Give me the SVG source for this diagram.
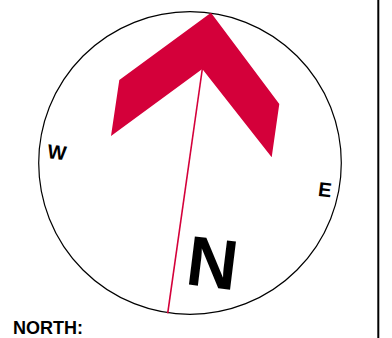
<svg xmlns="http://www.w3.org/2000/svg" width="392" height="338" viewBox="0 0 392 338">
<style>
.lbl{font-family:"Liberation Sans",Arial,sans-serif;font-weight:bold;fill:#000;text-anchor:middle}
</style>
<rect width="392" height="338" fill="#fff"/>
<g id="compass">
<circle cx="190" cy="163" r="151.3" fill="none" stroke="#000" stroke-width="1.2"/>
</g>
<g id="connectors">
<line x1="202.3" y1="69" x2="167.7" y2="313.3" stroke="#d4003a" stroke-width="1.6"/>
</g>
<g id="arrow">
<polygon points="211,12.7 279.3,104 271.7,157.3 202.3,69 111,136 119.3,80" fill="#d4003a"/>
</g>
<g id="label-N">
<text class="lbl" font-size="70.5" transform="translate(212.5,262) rotate(7)" x="0" y="25.3">N</text>
</g>
<g id="label-W">
<text class="lbl" font-size="20" transform="translate(57,152) rotate(7)" x="0" y="7.2">W</text>
</g>
<g id="label-E">
<text class="lbl" font-size="20" transform="translate(325,189.5) rotate(7)" x="0" y="7.2">E</text>
</g>
<g id="label-north">
<text class="lbl" font-size="18" x="13" y="334" style="text-anchor:start">NORTH:</text>
</g>
<line x1="378.3" y1="0" x2="378.3" y2="338" stroke="#000" stroke-width="2"/>
</svg>
